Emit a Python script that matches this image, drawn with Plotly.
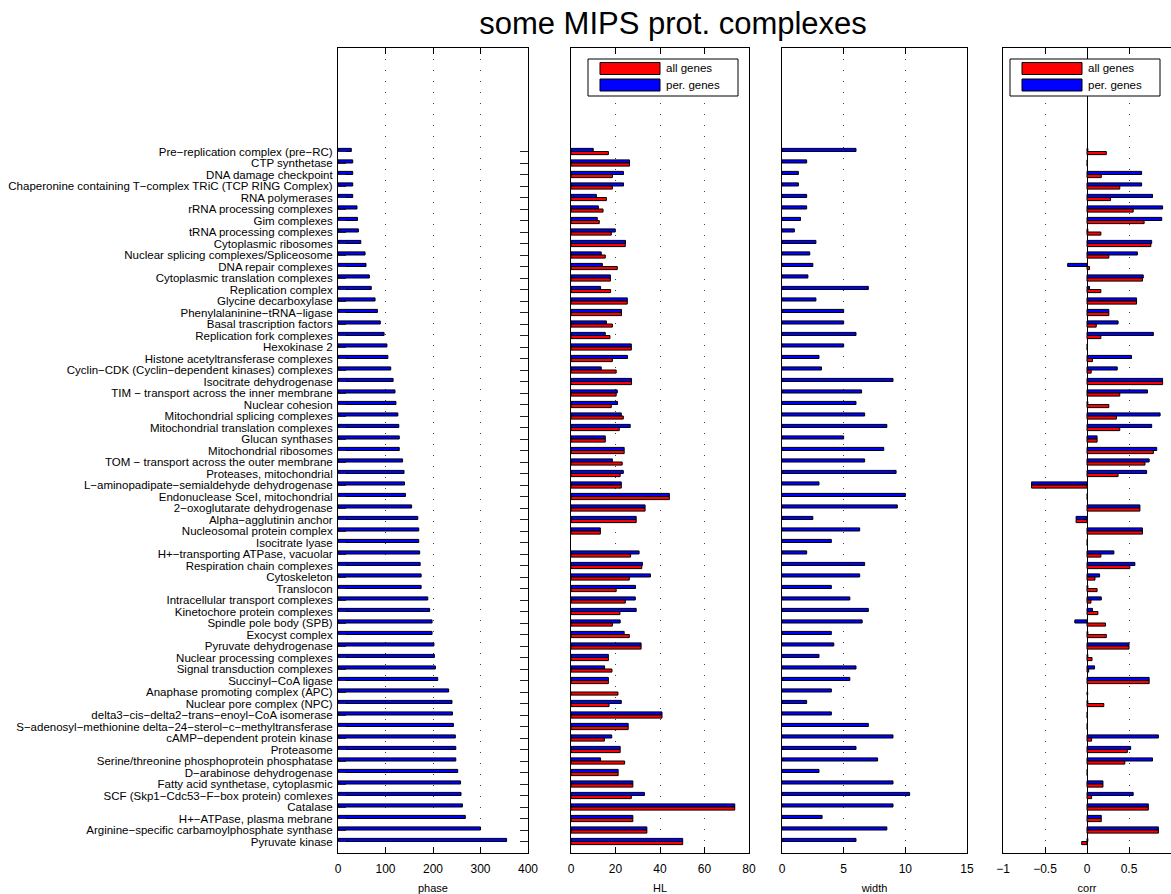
import plotly.graph_objects as go

# ---------------- data (top to bottom as in the figure) ----------------
complexes = [
    "Pre−replication complex (pre−RC)",
    "CTP synthetase",
    "DNA damage checkpoint",
    "Chaperonine containing T−complex TRiC (TCP RING Complex)",
    "RNA polymerases",
    "rRNA processing complexes",
    "Gim complexes",
    "tRNA processing complexes",
    "Cytoplasmic ribosomes",
    "Nuclear splicing complexes/Spliceosome",
    "DNA repair complexes",
    "Cytoplasmic translation complexes",
    "Replication complex",
    "Glycine decarboxylase",
    "Phenylalaninine−tRNA−ligase",
    "Basal trascription factors",
    "Replication fork complexes",
    "Hexokinase 2",
    "Histone acetyltransferase complexes",
    "Cyclin−CDK (Cyclin−dependent kinases) complexes",
    "Isocitrate dehydrogenase",
    "TIM − transport across the inner membrane",
    "Nuclear cohesion",
    "Mitochondrial splicing complexes",
    "Mitochondrial translation complexes",
    "Glucan synthases",
    "Mitochondrial ribosomes",
    "TOM − transport across the outer membrane",
    "Proteases, mitochondrial",
    "L−aminopadipate−semialdehyde dehydrogenase",
    "Endonuclease SceI, mitochondrial",
    "2−oxoglutarate dehydrogenase",
    "Alpha−agglutinin anchor",
    "Nucleosomal protein complex",
    "Isocitrate lyase",
    "H+−transporting ATPase, vacuolar",
    "Respiration chain complexes",
    "Cytoskeleton",
    "Translocon",
    "Intracellular transport complexes",
    "Kinetochore protein complexes",
    "Spindle pole body (SPB)",
    "Exocyst complex",
    "Pyruvate dehydrogenase",
    "Nuclear processing complexes",
    "Signal transduction complexes",
    "Succinyl−CoA ligase",
    "Anaphase promoting complex (APC)",
    "Nuclear pore complex (NPC)",
    "delta3−cis−delta2−trans−enoyl−CoA isomerase",
    "S−adenosyl−methionine delta−24−sterol−c−methyltransferase",
    "cAMP−dependent protein kinase",
    "Proteasome",
    "Serine/threonine phosphoprotein phosphatase",
    "D−arabinose dehydrogenase",
    "Fatty acid synthetase, cytoplasmic",
    "SCF (Skp1−Cdc53−F−box protein) comlexes",
    "Catalase",
    "H+−ATPase, plasma mebrane",
    "Arginine−specific carbamoylphosphate synthase",
    "Pyruvate kinase",
]

phase = [28, 31, 31, 31, 31, 40, 41, 43, 48, 57,
         59, 66, 70, 78, 83, 89, 97, 103, 105, 111,
         116, 120, 122, 126, 128, 129, 129, 136, 139, 140,
         142, 155, 168, 170, 170, 172, 173, 175, 175, 189,
         193, 198, 198, 202, 203, 205, 210, 233, 240, 241,
         243, 247, 248, 248, 252, 258, 259, 262, 268, 300, 355]

hl_per = [10, 26.3, 23.6, 23.6, 11.4, 12.3, 11.8, 19.9, 24.5, 13.6,
          14.1, 17.7, 13.3, 25.3, 22.7, 15.9, 15.4, 27.1, 25.4, 13.6,
          27.2, 20.8, 20.9, 22.6, 26.6, 15.4, 23.9, 18.6, 23.5, 22.6,
          44.2, 33.3, 29.3, 13.2, None, 30.6, 32.1, 35.7, 29.0, 28.9,
          29.3, 22.1, 23.9, 31.5, 16.8, 15.1, 16.8, None, 22.6, 40.9,
          25.7, 18.3, 22.1, 13.3, 21.2, 27.8, 33.0, 73.6, 27.8, 34.1, 50.2]

hl_all = [16.8, 26.3, 18.6, 18.6, 15.9, 14.4, 12.7, 18.1, 24.4, 15.4,
          20.8, 17.7, 17.8, 25.3, 22.7, 18.6, 17.5, 27.1, 18.6, 20.3,
          27.2, 20.3, 18.1, 23.5, 21.7, 15.4, 23.9, 23.0, 22.1, 22.6,
          44.2, 33.3, 29.3, 13.2, None, 26.8, 31.8, 26.2, 20.3, 24.4,
          22.0, 18.6, 26.2, 31.5, 16.8, 18.4, 16.8, 21.1, 17.1, 40.9,
          25.7, 15.0, 22.1, 24.1, 21.2, 27.8, 27.1, 73.6, 27.8, 34.1, 50.2]

width_per = [6, 2, 1.33, 1.33, 2, 2, 1.5, 1, 2.75, 2.25,
             2.5, 2.1, 7, 2.75, 5, 5, 6, 5, 3, 3.2,
             9, 6.45, 6, 6.7, 8.5, 5, 8.25, 6.7, 9.25, 3,
             10, 9.35, 2.5, 6.3, 4, 2, 6.7, 6.3, 4, 5.5,
             7, 6.5, 4, 4.2, 3, 6, 5.5, 4, 2, 4,
             7, 9, 6, 7.75, 3, 9, 10.35, 9, 3.25, 8.5, 6]

corr_per = [0.01, 0.005, 0.65, 0.65, 0.78, 0.9, 0.89, 0.01, 0.77, 0.6,
            -0.23, 0.67, 0.03, 0.59, 0.26, 0.37, 0.79, 0.005, 0.53, 0.36,
            0.9, 0.72, 0.01, 0.87, 0.77, 0.12, 0.83, 0.74, 0.71, -0.66,
            0.005, 0.63, -0.13, 0.66, 0.005, 0.32, 0.57, 0.15, 0.01, 0.17,
            0.065, -0.145, 0.01, 0.5, 0.01, 0.09, 0.74, None, 0.01, 0.005,
            0.005, 0.85, 0.52, 0.78, 0.005, 0.19, 0.55, 0.73, 0.17, 0.85, 0.01]

corr_all = [0.23, 0.005, 0.17, 0.39, 0.28, 0.55, 0.68, 0.165, 0.76, 0.26,
            0.03, 0.66, 0.165, 0.59, 0.26, 0.11, 0.165, 0.005, 0.065, 0.05,
            0.9, 0.39, 0.26, 0.35, 0.39, 0.12, 0.79, 0.69, 0.37, -0.66,
            0.005, 0.63, -0.13, 0.66, 0.005, 0.165, 0.51, 0.095, 0.12, 0.047,
            0.13, 0.22, 0.23, 0.5, 0.06, 0.02, 0.74, 0.008, 0.2, 0.005,
            0.005, 0.055, 0.48, 0.45, 0.005, 0.19, 0.055, 0.73, 0.17, 0.85, -0.063]

series_names = ["all genes", "per. genes"]
panel_titles = ["phase", "HL", "width", "corr"]

# ---------------- styling ----------------
W, H = 1171, 894
FONT = "Liberation Sans, Arial, Helvetica, sans-serif"
RED, BLUE = "#ff0000", "#0000ff"
BW = 0.27
n = len(complexes)
pos = list(range(n, 0, -1))

def px_x(p):
    return p / W

def px_y(p):  # pixel from top -> paper (plot area 48..853)
    return (853 - p) / (853 - 48)

doms = [(338, 528), (571, 749), (782, 967), (1003, 1171)]

fig = go.Figure()
edge = dict(color="black", width=1)

fig.add_trace(go.Bar(x=phase, y=pos, orientation="h", width=BW, offset=0,
                     marker=dict(color=BLUE, line=edge), name=series_names[1],
                     xaxis="x", yaxis="y", showlegend=False))
fig.add_trace(go.Bar(x=hl_per, y=pos, orientation="h", width=BW, offset=0,
                     marker=dict(color=BLUE, line=edge), name=series_names[1],
                     xaxis="x2", yaxis="y2", showlegend=False))
fig.add_trace(go.Bar(x=hl_all, y=pos, orientation="h", width=BW, offset=-BW,
                     marker=dict(color=RED, line=edge), name=series_names[0],
                     xaxis="x2", yaxis="y2", showlegend=False))
fig.add_trace(go.Bar(x=width_per, y=pos, orientation="h", width=BW, offset=0,
                     marker=dict(color=BLUE, line=edge), name=series_names[1],
                     xaxis="x3", yaxis="y3", showlegend=False))
fig.add_trace(go.Bar(x=corr_per, y=pos, orientation="h", width=BW, offset=0,
                     marker=dict(color=BLUE, line=edge), name=series_names[1],
                     xaxis="x4", yaxis="y4", showlegend=False))
fig.add_trace(go.Bar(x=corr_all, y=pos, orientation="h", width=BW, offset=-BW,
                     marker=dict(color=RED, line=edge), name=series_names[0],
                     xaxis="x4", yaxis="y4", showlegend=False))

xr = [[0, 400], [0, 80], [0, 15], [-1, 1]]
xd = [100, 20, 5, 0.5]
layout = dict(
    width=W, height=H, barmode="overlay",
    paper_bgcolor="white", plot_bgcolor="white",
    margin=dict(l=0, r=0, t=48, b=41, autoexpand=False),
    font=dict(family=FONT, color="black", size=12),
    title=dict(text="some MIPS prot. complexes", x=px_x(673), xanchor="center",
               y=1 - 23 / H, yanchor="middle", font=dict(size=31, family=FONT)),
    showlegend=False,
)
for i in range(4):
    k = "" if i == 0 else str(i + 1)
    layout["xaxis" + k] = dict(
        domain=[px_x(doms[i][0]), min(1.0, px_x(doms[i][1]))],
        range=xr[i], dtick=xd[i], tick0=xr[i][0], anchor="y" + k,
        showline=True, linecolor="black", linewidth=1, mirror="ticks",
        ticks="inside", ticklen=6, tickcolor="black",
        showgrid=True, gridcolor="#444", gridwidth=1, griddash="1px,10px",
        zeroline=(i == 3), zerolinecolor="black", zerolinewidth=1,
        tickfont=dict(size=12), automargin=False, ticklabelstandoff=5,
        title=dict(text=panel_titles[i], font=dict(size=11), standoff=8),
    )
    ya = dict(
        domain=[0, 1], range=[0, 70], anchor="x" + k,
        showline=True, linecolor="black", linewidth=1, mirror=True,
        showgrid=False, zeroline=False, automargin=False,
    )
    if i == 0:
        ya.update(tickmode="array", tickvals=pos, ticktext=complexes,
                  ticks="inside", ticklen=8, tickcolor="#222", mirror="ticks",
                  tickfont=dict(size=11.5), ticklabelstandoff=2)
    else:
        ya.update(showticklabels=False, ticks="")
    layout["yaxis" + k] = ya

fig.update_layout(**layout)

# ---------------- legends (drawn in the HL and corr panels) ----------------
for x0 in (588, 1010):
    fig.add_shape(type="rect", xref="paper", yref="paper",
                  x0=px_x(x0), x1=px_x(x0 + 150), y0=px_y(96), y1=px_y(59),
                  line=dict(color="black", width=1), fillcolor="white", layer="above")
    for (col, name, ytop) in ((RED, series_names[0], 62.5), (BLUE, series_names[1], 79)):
        fig.add_shape(type="rect", xref="paper", yref="paper",
                      x0=px_x(x0 + 12), x1=px_x(x0 + 72), y0=px_y(ytop + 12), y1=px_y(ytop),
                      line=dict(color="black", width=1), fillcolor=col, layer="above")
        fig.add_annotation(text=name, xref="paper", yref="paper",
                           x=px_x(x0 + 76), y=px_y(ytop + 6), xanchor="left", yanchor="middle",
                           showarrow=False, font=dict(size=11.5, family=FONT))

fig.write_html("out.html", config={"displayModeBar": False},
               post_script="document.body.style.margin='0';document.body.style.overflow='hidden';")
